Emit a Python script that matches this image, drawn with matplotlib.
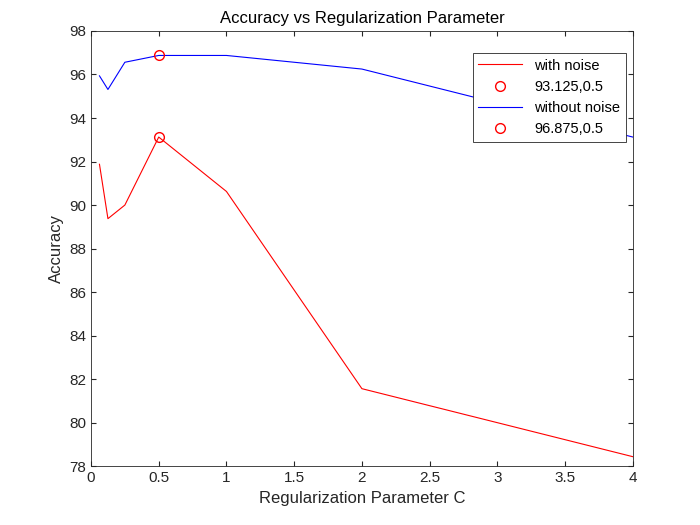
import matplotlib
matplotlib.use('Agg')
import matplotlib.pyplot as plt

plt.rcParams['font.family'] = ['Liberation Sans', 'DejaVu Sans']

c_values = [0.0625, 0.125, 0.25, 0.5, 1, 2, 4]
acc_noise = [91.875, 89.375, 90.0, 93.125, 90.625, 81.5625, 78.4375]
acc_clean = [95.9375, 95.3125, 96.5625, 96.875, 96.875, 96.25, 93.125]
best_noise = (0.5, 93.125)
best_clean = (0.5, 96.875)

fig = plt.figure(figsize=(7, 5.25), dpi=100)
ax = fig.add_axes([0.13, 0.112, 0.774, 0.829])

ax.plot(c_values, acc_noise, color='#ff0000', lw=0.8, label='with noise')
ax.plot(best_noise[0], best_noise[1], 'o', mfc='none', mec='#ff0000', ms=7,
        label=f'{best_noise[1]},{best_noise[0]}')
ax.plot(c_values, acc_clean, color='#0000ff', lw=0.8, label='without noise')
ax.plot(best_clean[0], best_clean[1], 'o', mfc='none', mec='#ff0000', ms=7,
        label=f'{best_clean[1]},{best_clean[0]}')

ax.set_xlim(0, 4)
ax.set_ylim(78, 98)
ax.set_xticks([0, 0.5, 1, 1.5, 2, 2.5, 3, 3.5, 4])
ax.set_xticklabels(['0', '0.5', '1', '1.5', '2', '2.5', '3', '3.5', '4'])
ax.set_yticks(range(78, 99, 2))
ax.tick_params(direction='in', top=True, right=True, labelsize=11, colors='#262626')
for s in ax.spines.values():
    s.set_color('#262626')
    s.set_linewidth(0.6)

ax.set_xlabel('Regularization Parameter C', fontsize=12, color='#262626')
ax.set_ylabel('Accuracy', fontsize=12, color='#262626')
ax.set_title('Accuracy vs Regularization Parameter', fontsize=12, color='#000000')

leg = ax.legend(loc='upper right', bbox_to_anchor=(0.995, 0.96), fontsize=10.5,
                fancybox=False, framealpha=1, edgecolor='#262626',
                handlelength=3, borderaxespad=0.3)
leg.get_frame().set_linewidth(0.6)

fig.savefig('out.png', dpi=100)
